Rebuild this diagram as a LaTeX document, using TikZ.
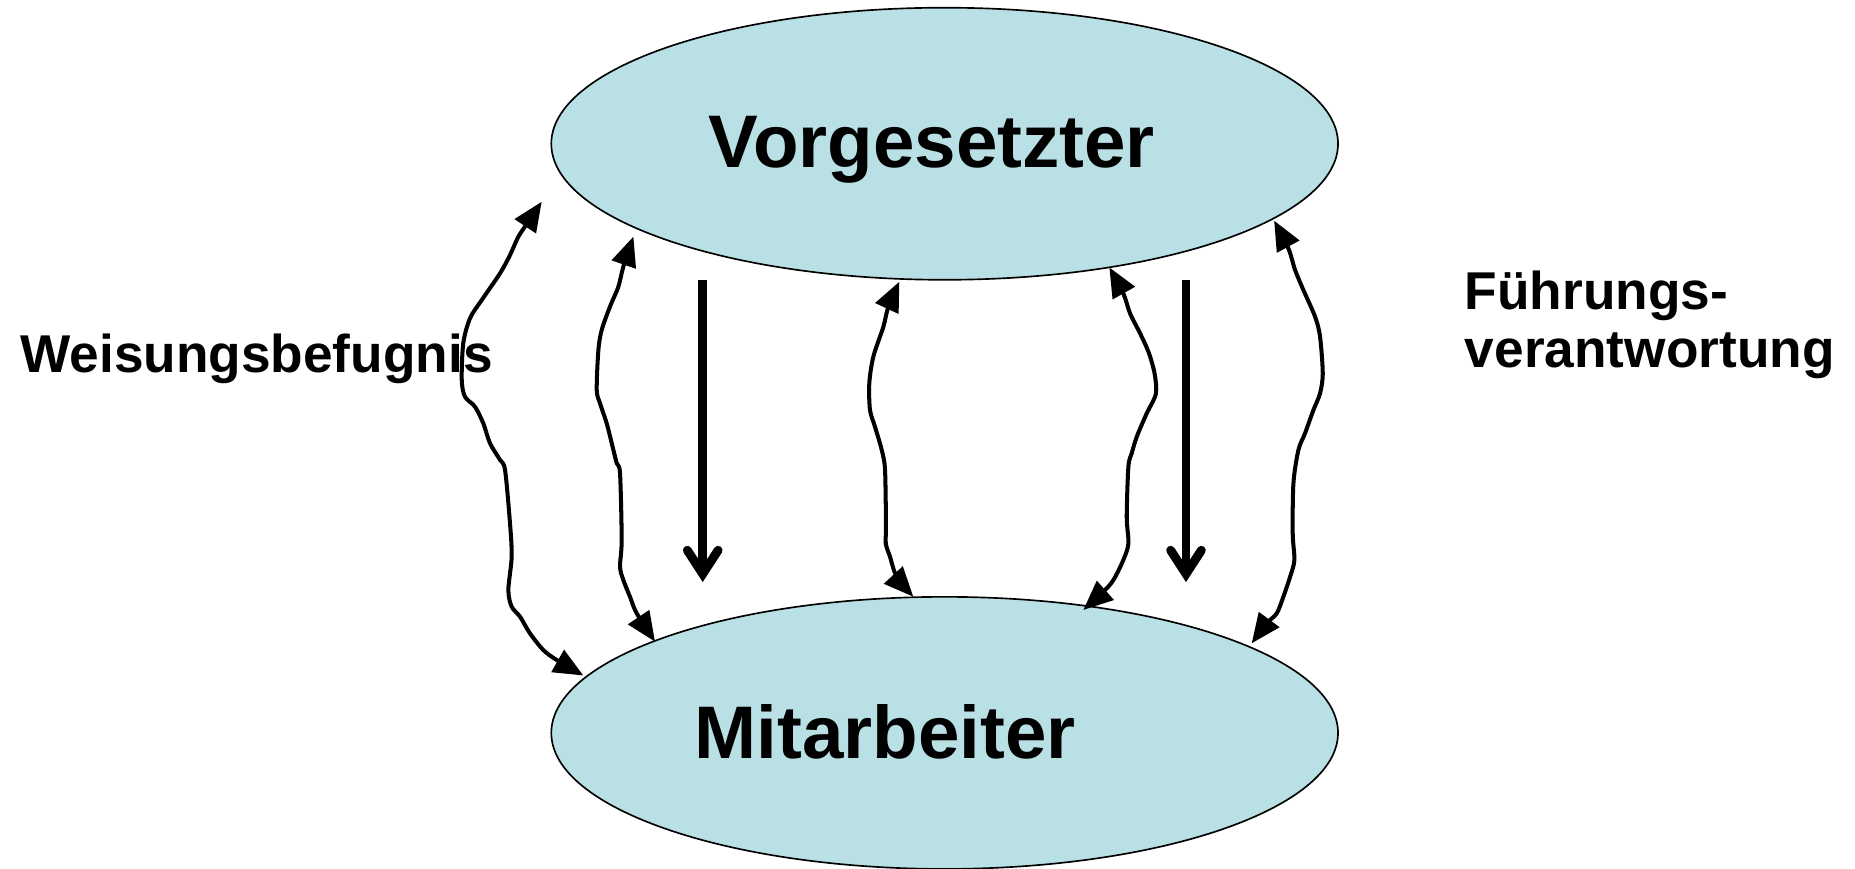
\documentclass[tikz,border=0pt]{standalone}
\usepackage{fontspec}
\setmainfont{Liberation Sans}
\usetikzlibrary{shapes.geometric,arrows.meta}
\definecolor{rolefill}{RGB}{185,224,228}
\begin{document}
\begin{tikzpicture}[x=1pt,y=-1pt,
  role/.style={ellipse, draw=black, line width=1.4pt, fill=rolefill,
    minimum width=665pt, minimum height=230pt, inner sep=0pt},
  roletext/.style={anchor=base west, inner sep=0pt,
    font=\fontsize{63}{76}\selectfont\bfseries},
  sidetext/.style={anchor=base west, inner sep=0pt, align=left,
    font=\fontsize{45}{49}\selectfont\bfseries},
  order/.style={line width=7.5pt,
    -{Straight Barb[length=20pt,width=26pt,line cap=round]}},
  feedback/.style={line width=3.4pt, line join=round,
    {Triangle[length=25pt,width=21pt]}-{Triangle[length=25pt,width=21pt]}},
  wave/.style={smooth, tension=0.5},
]
\useasboundingbox (0,0) rectangle (1568,734);

% the two roles
\node[role] (V) at (798.5,121.5) {};
\node[role] (M) at (798.5,619.5) {};
\node[roletext] (Vt) at (599,142) {Vorgesetzter};
\node[roletext] (Mt) at (587,641) {Mitarbeiter};

% side labels
\node[sidetext] (W) at (17,315) {Weisungsbefugnis};
\node[sidetext] (F) at (1238,311) {Führungs-\\verantwortung};

% directives downward
\coordinate (d1s) at (594,237);
\coordinate (d1e) at (594,492);
\coordinate (d2s) at (1002.5,237);
\coordinate (d2e) at (1002.5,492);
\draw[order] (d1s) -- (d1e);
\draw[order] (d2s) -- (d2e);

% mutual relations
\coordinate (a1) at (457.9,170.5);
\coordinate (a2) at (493.1,571);
\draw[feedback] plot[wave] coordinates {(a1) (446.6,187.4) (438.2,200)
  (431.1,215.6) (422.7,231) (407.2,253.6) (397.3,269) (391.6,290)
  (390.3,321) (393,335.3) (401.5,343.8) (408.5,357.8) (414.2,374.7)
  (422.7,388.8) (426.9,397.3) (431.1,442.4) (432.5,470.6) (429.7,498.7)
  (432.5,512.8) (439.6,521.3) (448,535.4) (459.3,549.5) (470.6,557.9) (a2)};

\coordinate (b1) at (535.4,200);
\coordinate (b2) at (553.7,542.4);
\draw[feedback] plot[wave] coordinates {(b1) (526.9,225.4) (522.7,242.3)
  (515.6,259.2) (508.6,279) (505.8,295.9) (504.4,329.7) (507.2,340.9)
  (512.8,357.8) (517.1,374.7) (521.3,391.6) (524.1,400.1) (525.5,456.5)
  (524.1,479) (526.9,490.3) (532.5,504.4) (538.2,518.4) (b2)};

\coordinate (c1) at (760.2,238.1);
\coordinate (c2) at (772,504.4);
\draw[feedback] plot[wave] coordinates {(c1) (750.9,259.3) (746.7,276.2)
  (738.2,301.5) (734.8,324) (735.4,346.6) (739.6,360.7) (745.3,380.4)
  (748.1,397.3) (748.9,445.2) (748.7,459.3) (752.3,470.6) (758,487.5) (c2)};

\coordinate (e1) at (937.7,226);
\coordinate (e2) at (915.7,515.6);
\draw[feedback] plot[wave] coordinates {(e1) (949.5,248) (955.2,264.9)
  (963.7,281.8) (971,298) (976,316) (977,333) (969.3,349.4) (960.9,369.1)
  (956.6,383.2) (953.8,394.5) (952.4,436.8) (953.8,459.3) (949.5,473.4)
  (941.1,490.3) (932.6,500.2) (e2)};

\coordinate (f1) at (1077,186.5);
\coordinate (f2) at (1058,543.8);
\draw[feedback] plot[wave] coordinates {(f1) (1089,209.9) (1094.7,228.2)
  (1101.7,245.1) (1111.6,267.7) (1115.8,284.6) (1118.1,315.6) (1115.8,332.5)
  (1110.2,346.6) (1103.1,366.3) (1097.5,380.4) (1093.3,408.6) (1092.7,450.8)
  (1094.1,473.4) (1090.5,487.5) (1084.8,504.4) (1079.2,518.4) (1070.8,526.9) (f2)};
\end{tikzpicture}
\end{document}
